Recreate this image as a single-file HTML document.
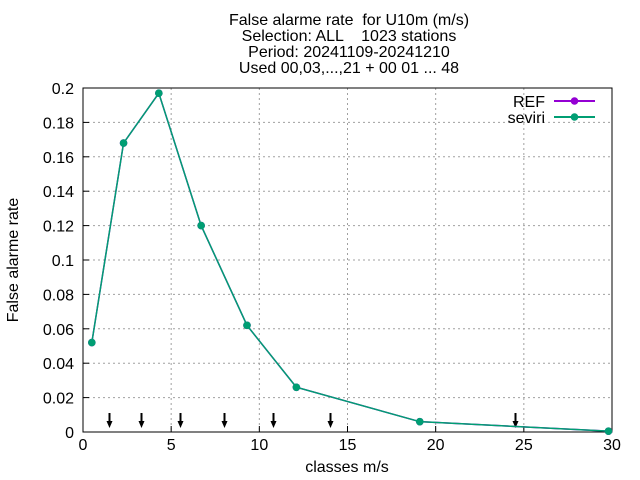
<!DOCTYPE html>
<html><head><meta charset="utf-8"><style>
html,body{margin:0;padding:0;background:#fff;}
svg{display:block;font-family:"Liberation Sans",sans-serif;}
text{white-space:pre;}
</style></head><body>
<svg id="chart" width="640" height="480" viewBox="0 0 640 480" xmlns="http://www.w3.org/2000/svg" xml:space="preserve">
<g font-size="16" text-anchor="middle" fill="#000">
<text x="349" y="25">False alarme rate  for U10m (m/s)</text>
<text x="349" y="41">Selection: ALL    1023 stations</text>
<text x="349" y="57">Period: 20241109-20241210</text>
<text x="349" y="73">Used 00,03,...,21 + 00 01 ... 48</text>
</g>
<g id="grid"></g>
<g id="axes"></g>
<g id="arrows"></g>
<g id="series"></g>
<text x="347" y="472" font-size="16" text-anchor="middle">classes m/s</text>
<text x="18" y="260" font-size="16" text-anchor="middle" transform="rotate(-90 18 260)">False alarme rate</text>
<g font-size="16">
<g>
<text x="545" y="107" text-anchor="end">REF</text>
<line x1="554" y1="101" x2="595" y2="101" stroke="#9400d3" stroke-width="2"/>
<circle cx="574.5" cy="101" r="3.8" fill="#9400d3"/>
</g>
<g>
<text x="545" y="123" text-anchor="end">seviri</text>
<line x1="554" y1="117" x2="595" y2="117" stroke="#009e73" stroke-width="2"/>
<circle cx="574.5" cy="117" r="3.8" fill="#009e73"/>
</g>
</g>
</svg>
<script>
const xTicks=[0,5,10,15,20,25,30];
const yTicks=[0,0.02,0.04,0.06,0.08,0.1,0.12,0.14,0.16,0.18,0.2];
const yTickLabels=["0","0.02","0.04","0.06","0.08","0.1","0.12","0.14","0.16","0.18","0.2"];
const classX=[0.5,2.3,4.3,6.7,9.3,12.1,19.1,29.8];
const refValues=[0.052,0.168,0.197,0.12,0.062,0.026,0.006,0.0005];
const seviriValues=[0.052,0.168,0.197,0.12,0.062,0.026,0.006,0.0005];
const arrowX=[1.5,3.3,5.5,8,10.8,14,24.5];

const L=83,R=612,T=88,B=432;
const sx=v=>L+(v-0)/(30-0)*(R-L);
const sy=v=>B-(v-0)/(0.2-0)*(B-T);
const NS="http://www.w3.org/2000/svg";
function mk(tag,attrs,parent){const e=document.createElementNS(NS,tag);for(const k in attrs)e.setAttribute(k,attrs[k]);parent.appendChild(e);return e;}
const grid=document.getElementById('grid'),axes=document.getElementById('axes'),arrows=document.getElementById('arrows'),series=document.getElementById('series');
xTicks.forEach((t,i)=>{
  const x=sx(t);
  if(i>0&&i<xTicks.length-1){const g=mk('line',{x1:x,y1:T,x2:x,y2:B,stroke:'#a0a0a0','stroke-dasharray':'2,3','stroke-width':1},grid);
  }
  const tk=mk('line',{x1:x,y1:B,x2:x,y2:B-6,stroke:'#000'},axes);
  
  const tl=mk('text',{x:x,y:B+18,'font-size':16,'text-anchor':'middle'},axes);tl.textContent=t;
  
});
yTicks.forEach((t,i)=>{
  const y=sy(t);
  if(i>0&&i<yTicks.length-1){const g=mk('line',{x1:L,y1:y,x2:R,y2:y,stroke:'#a0a0a0','stroke-dasharray':'2,3','stroke-width':1},grid);
  }
  const tk=mk('line',{x1:L,y1:y,x2:L+6,y2:y,stroke:'#000'},axes);
  
  const tl=mk('text',{x:L-9,y:y+6,'font-size':16,'text-anchor':'end'},axes);tl.textContent=yTickLabels[i];
  
});
const fr=mk('rect',{x:L,y:T,width:R-L,height:B-T,fill:'none',stroke:'#000','stroke-width':1},axes);

arrowX.forEach(a=>{
  const x=Math.round(sx(a))+0.5;
  const g=mk('g',{},arrows);
  
  mk('line',{x1:x,y1:413,x2:x,y2:423,stroke:'#000','stroke-width':2},g);
  mk('path',{d:`M${x-3},${421} L${x+3},${421} L${x},${428} Z`,fill:'#000'},g);
});
function drawSeries(vals,color,name){
  const g=mk('g',{},series);
  
  const pts=vals.map((v,i)=>sx(classX[i])+','+sy(v)).join(' ');
  const pl=mk('polyline',{points:pts,fill:'none',stroke:color,'stroke-width':1.5},g);
  
  vals.forEach((v,i)=>{const c=mk('circle',{cx:sx(classX[i]),cy:sy(v),r:3.8,fill:color},g);
    });
}
drawSeries(refValues,'#9400d3','ref');
drawSeries(seviriValues,'#009e73','seviri');
</script>
</body></html>
